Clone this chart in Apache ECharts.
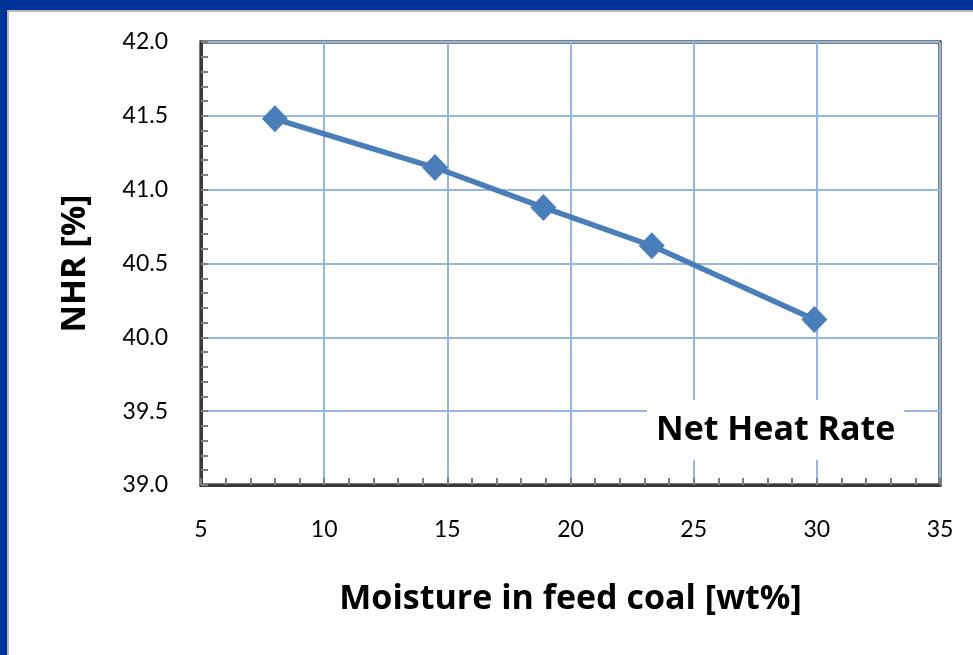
<!DOCTYPE html>
<html>
<head>
<meta charset="utf-8">
<script src="https://cdn.jsdelivr.net/npm/echarts@6/dist/echarts.min.js"></script>
<style>
  html, body { margin: 0; padding: 0; background: #fff; }
  #chart { width: 973px; height: 655px; }
</style>
</head>
<body>
<div id="chart"></div>
<script>
// Moisture content of the feed coal [wt%] and resulting net heat rate [%]
const moisture = [8.0, 14.5, 18.9, 23.3, 29.9];
const netHeatRate = [41.48, 41.15, 40.88, 40.62, 40.12];

const xTitle = 'Moisture in feed coal [wt%]';
const yTitle = 'NHR [%]';
const seriesName = 'Net Heat Rate';

const TICK_FONT = 'Lato, "Open Sans", sans-serif';
const TITLE_FONT = '"Open Sans", Lato, sans-serif';
const LINE_BLUE = '#4a7ebb';
const GRID_BLUE = '#95b6e4';

const chart = echarts.init(document.getElementById('chart'));

chart.setOption({
  animation: false,
  backgroundColor: '#ffffff',
  title: {
    text: seriesName,
    left: 647,
    top: 400,
    padding: [10, 9],
    backgroundColor: '#ffffff',
    textStyle: { fontFamily: TITLE_FONT, fontWeight: 'bold', fontSize: 34, lineHeight: 40, color: '#000' }
  },
  grid: {
    left: 201, top: 42, right: 33, bottom: 170,
    show: true, borderColor: '#000', borderWidth: 3, backgroundColor: 'transparent'
  },
  xAxis: {
    type: 'value',
    min: 5, max: 35, interval: 5,
    name: xTitle,
    nameLocation: 'middle',
    nameGap: 97,
    nameTextStyle: { fontFamily: TITLE_FONT, fontWeight: 'bold', fontSize: 34, color: '#000' },
    axisLine: { show: true, onZero: false, lineStyle: { color: '#3a3a3a', width: 3 } },
    axisTick: { show: true, inside: true, length: 7, lineStyle: { color: '#7f7f7f', width: 2 } },
    minorTick: { show: true, splitNumber: 5, length: 7, lineStyle: { color: '#7f7f7f', width: 2 } },
    axisLabel: { fontFamily: TICK_FONT, fontSize: 23, color: '#000', margin: 33 },
    splitLine: { show: true, lineStyle: { color: GRID_BLUE, width: 2 } }
  },
  yAxis: {
    type: 'value',
    min: 39.0, max: 42.0, interval: 0.5,
    name: yTitle,
    nameLocation: 'middle',
    nameGap: 109,
    nameTextStyle: { fontFamily: TITLE_FONT, fontWeight: 'bold', fontSize: 34, color: '#000' },
    axisLine: { show: true, onZero: false, lineStyle: { color: '#3a3a3a', width: 3 } },
    axisTick: { show: true, inside: true, length: 7, lineStyle: { color: '#7f7f7f', width: 2 } },
    minorTick: { show: true, splitNumber: 5, length: 7, lineStyle: { color: '#7f7f7f', width: 2 } },
    axisLabel: {
      fontFamily: TICK_FONT, fontSize: 23, color: '#000', margin: 33,
      formatter: v => v.toFixed(1)
    },
    splitLine: { show: true, lineStyle: { color: GRID_BLUE, width: 2 } }
  },
  series: [{
    name: seriesName,
    type: 'line',
    data: moisture.map((m, i) => [m, netHeatRate[i]]),
    lineStyle: { color: LINE_BLUE, width: 5.5 },
    itemStyle: { color: LINE_BLUE },
    symbol: 'diamond',
    symbolSize: [26, 27],
    z: 5
  }],
  graphic: [
    // slide frame: blue band along top and left with a thin grey inner edge
    { type: 'rect', shape: { x: 0, y: 0, width: 973, height: 10 }, style: { fill: '#003399' }, silent: true },
    { type: 'rect', shape: { x: 0, y: 0, width: 7, height: 655 }, style: { fill: '#003399' }, silent: true },
    { type: 'rect', shape: { x: 7, y: 10, width: 966, height: 2 }, style: { fill: '#b8b8b8' }, silent: true },
    { type: 'rect', shape: { x: 7, y: 10, width: 2, height: 645 }, style: { fill: '#b8b8b8' }, silent: true }
  ]
});
</script>
</body>
</html>
